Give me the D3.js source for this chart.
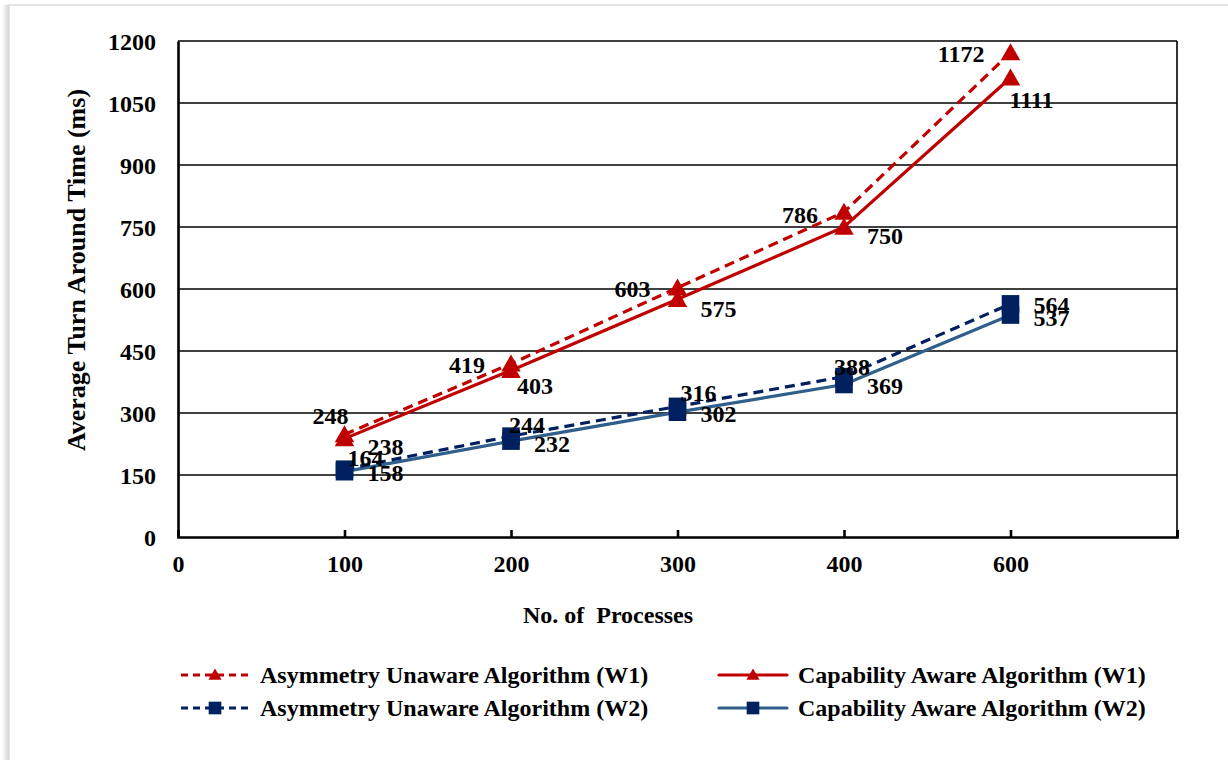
<!DOCTYPE html>
<html>
<head>
<meta charset="utf-8">
<script src="https://cdn.jsdelivr.net/npm/d3@7"></script>
<style>
  html, body { margin: 0; padding: 0; background: #fff; }
  svg { display: block; }
  text { font-family: "Liberation Serif", "Times New Roman", serif; font-weight: bold; fill: #000; }
</style>
</head>
<body>
<svg id="chart" width="1228" height="760"></svg>
<script>
// Category labels along the x axis (one empty slot of padding at the right end)
const categories = ["0", "100", "200", "300", "400", "600", ""];
// Points are plotted at these category positions
const pointCats = ["100", "200", "300", "400", "600"];
const yTicks = [0, 150, 300, 450, 600, 750, 900, 1050, 1200];

const unawareW1 = [248, 419, 603, 786, 1172];
const awareW1   = [238, 403, 575, 750, 1111];
const unawareW2 = [164, 244, 316, 388, 564];
const awareW2   = [158, 232, 302, 369, 537];

const seriesNames = [
  "Asymmetry Unaware Algorithm (W1)",
  "Capability Aware Algorithm (W1)",
  "Asymmetry Unaware Algorithm (W2)",
  "Capability Aware Algorithm (W2)"
];

const FONT = "24px";

const svg = d3.select("#chart");

// Figure frame with a soft left shadow
const defs = svg.append("defs");
const grad = defs.append("linearGradient").attr("id", "shadow").attr("x1", "0").attr("x2", "1");
grad.append("stop").attr("offset", "0").attr("stop-color", "#ffffff");
grad.append("stop").attr("offset", "1").attr("stop-color", "#d4d4d4");
svg.append("rect").attr("x", 2).attr("y", 5).attr("width", 7).attr("height", 800).attr("fill", "url(#shadow)");
svg.append("rect").attr("x", 9).attr("y", 5).attr("width", 1260).attr("height", 800)
  .attr("fill", "#fff").attr("stroke", "#dcdcdc").attr("stroke-width", 1.5);

const plot = { left: 178, right: 1177, top: 41, bottom: 537 };

const x = d3.scalePoint().domain(categories).range([plot.left, plot.right]).padding(0);
const y = d3.scaleLinear().domain([0, 1200]).range([plot.bottom, plot.top]);

const g = svg.append("g");

// Horizontal gridlines
g.append("g").selectAll("line").data(yTicks.filter(d => d > 0)).join("line")
  .attr("x1", plot.left).attr("x2", plot.right)
  .attr("y1", d => y(d)).attr("y2", d => y(d))
  .attr("stroke", "#000").attr("stroke-width", 1.6);

// Right border of plot area
g.append("line").attr("x1", plot.right).attr("x2", plot.right)
  .attr("y1", plot.top).attr("y2", plot.bottom)
  .attr("stroke", "#000").attr("stroke-width", 1.6);

// Y axis
const yAxis = d3.axisLeft(y).tickValues(yTicks).tickFormat(d3.format("d")).tickSize(0).tickPadding(22);
const yg = g.append("g").attr("transform", `translate(${plot.left},0)`).call(yAxis);
yg.select(".domain").attr("stroke", "#000").attr("stroke-width", 2.6);
yg.selectAll("text").style("font-size", FONT).style("font-family", "Liberation Serif").style("font-weight", "bold").attr("dy", "0.34em");

// X axis with inward ticks
const xAxis = d3.axisBottom(x).tickSize(-7).tickPadding(18);
const xg = g.append("g").attr("transform", `translate(0,${plot.bottom})`).call(xAxis);
xg.select(".domain").attr("stroke", "#000").attr("stroke-width", 2.6);
xg.selectAll(".tick line").attr("stroke", "#000").attr("stroke-width", 2.6);
xg.selectAll("text").style("font-size", FONT).style("font-family", "Liberation Serif").style("font-weight", "bold");

// Axis titles
svg.append("text").attr("x", 608).attr("y", 623)
  .attr("text-anchor", "middle").style("font-size", FONT).text("No. of\u00a0\u00a0Processes");
svg.append("text").attr("transform", `translate(85,${270}) rotate(-90)`)
  .attr("text-anchor", "middle").style("font-size", "26px").text("Average Turn Around Time (ms)");

const RED = "#C00000";
const NAVY = "#002060";
const STEEL = "#2F5F8A";

const series = [
  { values: unawareW1, stroke: RED, dash: "10,6", marker: "tri", fill: RED },
  { values: awareW1, stroke: RED, dash: null, marker: "tri", fill: RED },
  { values: unawareW2, stroke: NAVY, dash: "10,6", marker: "sq", fill: NAVY },
  { values: awareW2, stroke: STEEL, dash: null, marker: "sq", fill: NAVY }
];

// Label placements per series: [dx, dy, anchor] relative to each point
const labelPlacement = [
  [[4, -19, "end"], [-26, 1, "end"], [-27, 1, "end"], [-26, 2, "end"], [-26, 1, "end"]],
  [[23, 8, "start"], [6, 15, "start"], [23, 9, "start"], [23, 9, "start"], [-1, 22, "start"]],
  [[3, -12, "start"], [-2, -12, "start"], [3, -14, "start"], [-10, -10, "start"], [23, 1, "start"]],
  [[23, 1, "start"], [23, 2, "start"], [23, 1, "start"], [23, 1, "start"], [23, 3, "start"]]
];

const line = d3.line().x((d, i) => x(pointCats[i])).y(d => y(d));
const triSym = d3.symbol().type(d3.symbolTriangle).size(165);
const sqSym = d3.symbol().type(d3.symbolSquare).size(310);

// Lines first (solid lines below dashed), then markers
const drawOrder = [3, 1, 2, 0];
drawOrder.forEach(si => {
  const s = series[si];
  g.append("path").datum(s.values).attr("d", line)
    .attr("fill", "none").attr("stroke", s.stroke).attr("stroke-width", 3.2)
    .attr("stroke-dasharray", s.dash);
});
drawOrder.forEach(si => {
  const s = series[si];
  g.append("g").selectAll("path").data(s.values).join("path")
    .attr("transform", (d, i) => `translate(${x(pointCats[i])},${y(d) + (s.marker === "tri" ? 2 : 0)})`)
    .attr("d", s.marker === "tri" ? triSym : sqSym)
    .attr("fill", s.fill);
});

// Data labels
series.forEach((s, si) => {
  g.append("g").selectAll("text").data(s.values).join("text")
    .attr("x", (d, i) => x(pointCats[i]) + labelPlacement[si][i][0])
    .attr("y", (d, i) => y(d) + labelPlacement[si][i][1])
    .attr("dy", "0.35em")
    .attr("text-anchor", (d, i) => labelPlacement[si][i][2])
    .style("font-size", FONT)
    .text(d => d);
});

// Legend
const legendItems = [
  { si: 0, x: 181, y: 675 },
  { si: 1, x: 719, y: 675 },
  { si: 2, x: 181, y: 708 },
  { si: 3, x: 719, y: 708 }
];
const lg = svg.append("g");
legendItems.forEach(it => {
  const s = series[it.si];
  const item = lg.append("g");
  item.append("line").attr("x1", it.x).attr("x2", it.x + 68)
    .attr("y1", it.y).attr("y2", it.y)
    .attr("stroke", s.stroke).attr("stroke-width", 3.2)
    .attr("stroke-dasharray", s.dash ? "7,5" : null)
    .attr("stroke-linecap", s.dash ? "butt" : "round");
  item.append("path")
    .attr("transform", `translate(${it.x + 34},${it.y + (s.marker === "tri" ? 1 : 0)})`)
    .attr("d", s.marker === "tri" ? d3.symbol().type(d3.symbolTriangle).size(75)() : d3.symbol().type(d3.symbolSquare).size(160)())
    .attr("fill", s.fill);
  item.append("text").attr("x", it.x + 79).attr("y", it.y).attr("dy", "0.35em")
    .style("font-size", FONT).text(seriesNames[it.si]);
});
</script>
</body>
</html>
